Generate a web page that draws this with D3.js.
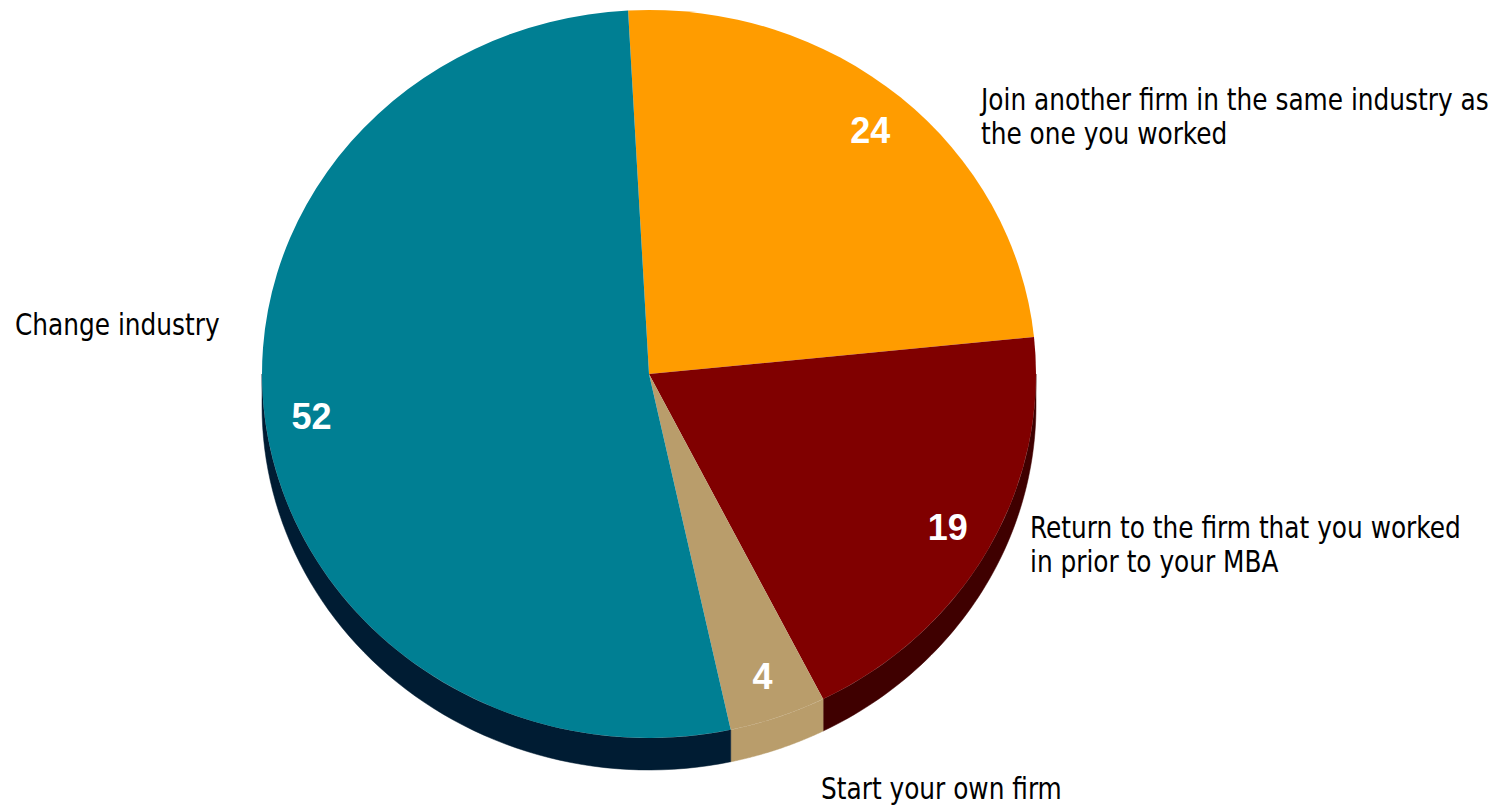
<!DOCTYPE html>
<html>
<head>
<meta charset="utf-8">
<script src="https://cdn.jsdelivr.net/npm/d3@7"></script>
<style>
  html, body { margin: 0; padding: 0; background: #fff; }
  .cat { font-family: "DejaVu Sans Condensed", "DejaVu Sans", sans-serif; font-stretch: condensed; font-size: 30px; fill: #000; }
  .val { font-family: "Liberation Sans", Arial, sans-serif; font-weight: bold; font-size: 36px; fill: #fff; }
</style>
</head>
<body>
<svg id="chart" width="1511" height="808"></svg>
<script>
// data, in drawing order (clockwise from the top)
var categories = [
  "Join another firm in the same industry as the one you worked",
  "Return to the firm that you worked in prior to your MBA",
  "Start your own firm",
  "Change industry"
];
var values = [24, 19, 4, 52];
var labelLines = [
  ["Join another firm in the same industry as", "the one you worked"],
  ["Return to the firm that you worked", "in prior to your MBA"],
  ["Start your own firm"],
  ["Change industry"]
];
var topColors = ["#ff9c00", "#800000", "#b99d6b", "#007f93"];
var sideColors = ["#b36d00", "#3f0000", "#b99d6b", "#001c33"];

// layout
var cx = 649, cy = 374, rx = 387, ry = 364, depth = 32;
var start = -3.1 * Math.PI / 180;
// where the category text blocks sit (left x, first baseline)
var catPos = [[981, 110], [1030, 538], [821, 799], [15, 335]];
var lineGap = 34;
var squeeze = 0.92; // the original face is narrower still

var svg = d3.select('#chart');

var pie = d3.pie()
  .sort(null)
  .startAngle(start)
  .endAngle(start + 2 * Math.PI);

var arcs = pie(values);

var pt = function(a, dy) {
  return [cx + rx * Math.sin(a), cy - ry * Math.cos(a) + (dy || 0)];
}

// side walls (only the front half can be seen)
var walls = svg.append('g');
arcs.forEach(function(d, i) {
  var a0 = Math.max(d.startAngle, Math.PI / 2),
    a1 = Math.min(d.endAngle, 3 * Math.PI / 2);
  if (a1 <= a0) return;
  var n = 60, top = [], bot = [];
  for (var k = 0; k <= n; k++) {
    var a = a0 + (a1 - a0) * k / n;
    top.push(pt(a));
    bot.push(pt(a, depth));
  }
  var pts = top.concat(bot.reverse());
  walls.append('path')
    .attr('d', d3.line()(pts) + 'Z')
    .style('fill', sideColors[i])
    .style('stroke', sideColors[i])
    .style('stroke-width', 0.5);
});

// top faces
var arc = d3.arc().innerRadius(0).outerRadius(rx);
svg.append('g')
  .attr('transform', 'translate(' + cx + ',' + cy + ') scale(1,' + (ry / rx) + ')')
  .selectAll('path')
  .data(arcs)
  .enter().append('path')
  .attr('d', arc)
  .style('fill', function(d, i) { return topColors[i]; });

// values inside the slices
svg.append('g')
  .selectAll('text')
  .data(arcs)
  .enter().append('text')
  .attr('class', 'val')
  .attr('text-anchor', 'middle')
  .attr('dominant-baseline', 'central')
  .attr('x', function(d) { return cx + rx * 0.88 * Math.sin((d.startAngle + d.endAngle) / 2); })
  .attr('y', function(d) { return cy - ry * 0.88 * Math.cos((d.startAngle + d.endAngle) / 2); })
  .text(function(d) { return d.data; });

// category names, one text per line
var lines = [];
categories.forEach(function(c, i) {
  labelLines[i].forEach(function(s, j) {
    lines.push({ s: s, x: catPos[i][0], y: catPos[i][1] + j * lineGap });
  });
});

svg.append('g')
  .selectAll('text')
  .data(lines)
  .enter().append('text')
  .attr('class', 'cat')
  .attr('transform', function(d) {
    return 'translate(' + d.x + ',' + d.y + ') scale(' + squeeze + ',1)';
  })
  .text(function(d) { return d.s; });
</script>
</body>
</html>
